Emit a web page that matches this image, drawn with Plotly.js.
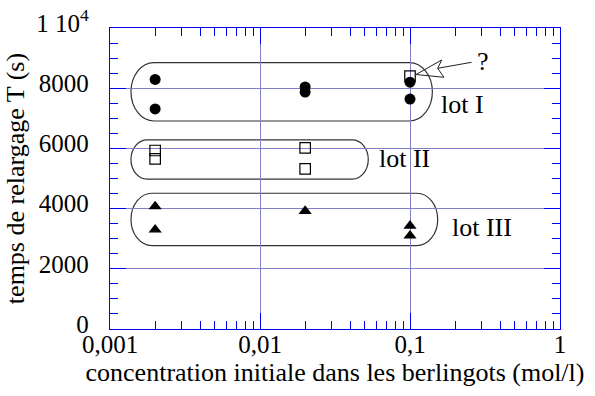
<!DOCTYPE html>
<html>
<head>
<meta charset="utf-8">
<script src="https://cdn.plot.ly/plotly-3.0.1.min.js"></script>
<style>html,body{margin:0;padding:0;background:#fff;}#chart{width:595px;height:396px;}</style>
</head>
<body>
<div id="chart"></div>
<script>
// ---- data ----
const lotI_x   = [0.002, 0.002, 0.02, 0.02, 0.1, 0.1];
const lotI_y   = [8290, 7310, 8040, 7870, 8200, 7640];
const lotII_x  = [0.002, 0.002, 0.02, 0.02, 0.1];
const lotII_y  = [5930, 5650, 6020, 5320, 8400];
const lotIII_x = [0.002, 0.002, 0.02, 0.1, 0.1];
const lotIII_y = [4070, 3300, 3920, 3430, 3100];
const yTickVals = [0, 2000, 4000, 6000, 8000, 10000];
const yTickText = ['0', '2000', '4000', '6000', '8000', '1 10<sup>4</sup>'];
const xTickVals = [0.001, 0.01, 0.1, 1];
const xTickText = ['0,001', '0,01', '0,1', '1'];
// group outlines (left edge, right edge, top, bottom, end radius in decades)
const groupLeft   = [0.00138, 0.00138, 0.00138];
const groupRight  = [0.141, 0.0527, 0.153];
const groupTop    = [8850, 6280, 4510];
const groupBottom = [6910, 4980, 2770];
const groupRx     = [0.153, 0.107, 0.14];
const groupLabels = ['lot I', 'lot II', 'lot III'];

// ---- geometry ----
const L = 110, T = 28, W = 450, H = 301;
const FW = 595, FH = 396;
const px2paperX = p => (p - L) / W;
const px2paperY = p => (T + H - p) / H;

const BLUE = 'rgb(0,0,235)';
const GRID = 'rgb(128,128,200)';
const FONT = 'Liberation Serif, Times New Roman, serif';

function stadium(i) {
  const a = Math.log10(groupLeft[i]), b = Math.log10(groupRight[i]);
  const yt = groupTop[i], yb = groupBottom[i];
  const ym = (yt + yb) / 2, ry = (yt - yb) / 2, rx = groupRx[i], k = 0.5523;
  const P = (u, y) => Math.pow(10, u).toFixed(7) + ',' + y.toFixed(2);
  return 'M' + P(a + rx, yt) +
    ' L' + P(b - rx, yt) +
    ' C' + P(b - rx + k * rx, yt) + ' ' + P(b, ym + k * ry) + ' ' + P(b, ym) +
    ' C' + P(b, ym - k * ry) + ' ' + P(b - rx + k * rx, yb) + ' ' + P(b - rx, yb) +
    ' L' + P(a + rx, yb) +
    ' C' + P(a + rx - k * rx, yb) + ' ' + P(a, ym - k * ry) + ' ' + P(a, ym) +
    ' C' + P(a, ym + k * ry) + ' ' + P(a + rx - k * rx, yt) + ' ' + P(a + rx, yt) + ' Z';
}

const shapes = [0, 1, 2].map(i => ({
  type: 'path', xref: 'x', yref: 'y', path: stadium(i),
  line: {color: '#333', width: 1.2}, layer: 'below'
}));

// hollow arrow pointing to the questionable point
const ap = (x, y) => px2paperX(x).toFixed(5) + ',' + px2paperY(y).toFixed(5);
shapes.push({
  type: 'path', xref: 'paper', yref: 'paper',
  path: 'M' + ap(416, 74.5) + ' L' + ap(441.7, 60) + ' L' + ap(437.7, 68.3) +
        ' L' + ap(444, 77.3) + ' Z M' + ap(437.7, 68.3) + ' L' + ap(471.5, 62.3),
  line: {color: '#222', width: 1}, fillcolor: 'rgba(0,0,0,0)'
});

const traces = [
  {x: lotII_x, y: lotII_y, type: 'scatter', mode: 'markers', name: groupLabels[1],
   marker: {symbol: 'square-open', size: 10.5, color: '#000', line: {width: 1.2}}},
  {x: lotI_x, y: lotI_y, type: 'scatter', mode: 'markers', name: groupLabels[0],
   marker: {symbol: 'circle', size: 11, color: '#000'}},
  {x: lotIII_x, y: lotIII_y, type: 'scatter', mode: 'markers', name: groupLabels[2],
   marker: {symbol: 'triangle-up', size: 11.5, color: '#000'}}
];

const ann = (text, x, y) => ({
  text: text, xref: 'paper', yref: 'paper', x: px2paperX(x), y: px2paperY(y),
  xanchor: 'left', yanchor: 'middle', showarrow: false,
  font: {family: FONT, size: 26, color: '#000'}
});

const layout = {
  width: FW, height: FH,
  margin: {l: L, r: FW - L - W, t: T, b: FH - T - H, pad: 0},
  paper_bgcolor: '#fff', plot_bgcolor: '#fff',
  showlegend: false,
  font: {family: FONT, color: '#000'},
  xaxis: {
    type: 'log', range: [-3, 0], autorange: false,
    tickvals: xTickVals, ticktext: xTickText,
    ticks: 'inside', ticklen: 16, tickwidth: 1, tickcolor: BLUE,
    showline: true, linecolor: BLUE, linewidth: 1.2, mirror: 'ticks',
    showgrid: true, gridcolor: GRID, gridwidth: 1, zeroline: false,
    tickfont: {family: FONT, size: 25, color: '#000'},
    ticklabelstandoff: -7,
    minor: {dtick: 'D1', ticks: 'inside', ticklen: 8, tickcolor: BLUE, tickwidth: 1, showgrid: false},
    title: {text: 'concentration initiale dans les berlingots (mol/l)',
            font: {family: FONT, size: 26, color: '#000'}, standoff: 2}
  },
  yaxis: {
    range: [0, 10000], autorange: false,
    tickvals: yTickVals, ticktext: yTickText,
    ticks: 'inside', ticklen: 16, tickwidth: 1, tickcolor: BLUE,
    showline: true, linecolor: BLUE, linewidth: 1.2, mirror: 'ticks',
    showgrid: true, gridcolor: GRID, gridwidth: 1, zeroline: false,
    tickfont: {family: FONT, size: 25, color: '#000'},
    ticklabelstandoff: 15,
    ticklabelshift: -5,
    minor: {dtick: 500, ticks: 'inside', ticklen: 8, tickcolor: BLUE, tickwidth: 1, showgrid: false},
    title: {text: 'temps de relargage T (s)',
            font: {family: FONT, size: 26, color: '#000'}, standoff: 4}
  },
  shapes: shapes,
  annotations: [
    ann(groupLabels[0], 439, 104),
    ann(groupLabels[1], 377, 158),
    ann(groupLabels[2], 450, 227),
    ann('?', 475, 62)
  ]
};

Plotly.newPlot('chart', traces, layout, {staticPlot: true, displayModeBar: false});
</script>
</body>
</html>
